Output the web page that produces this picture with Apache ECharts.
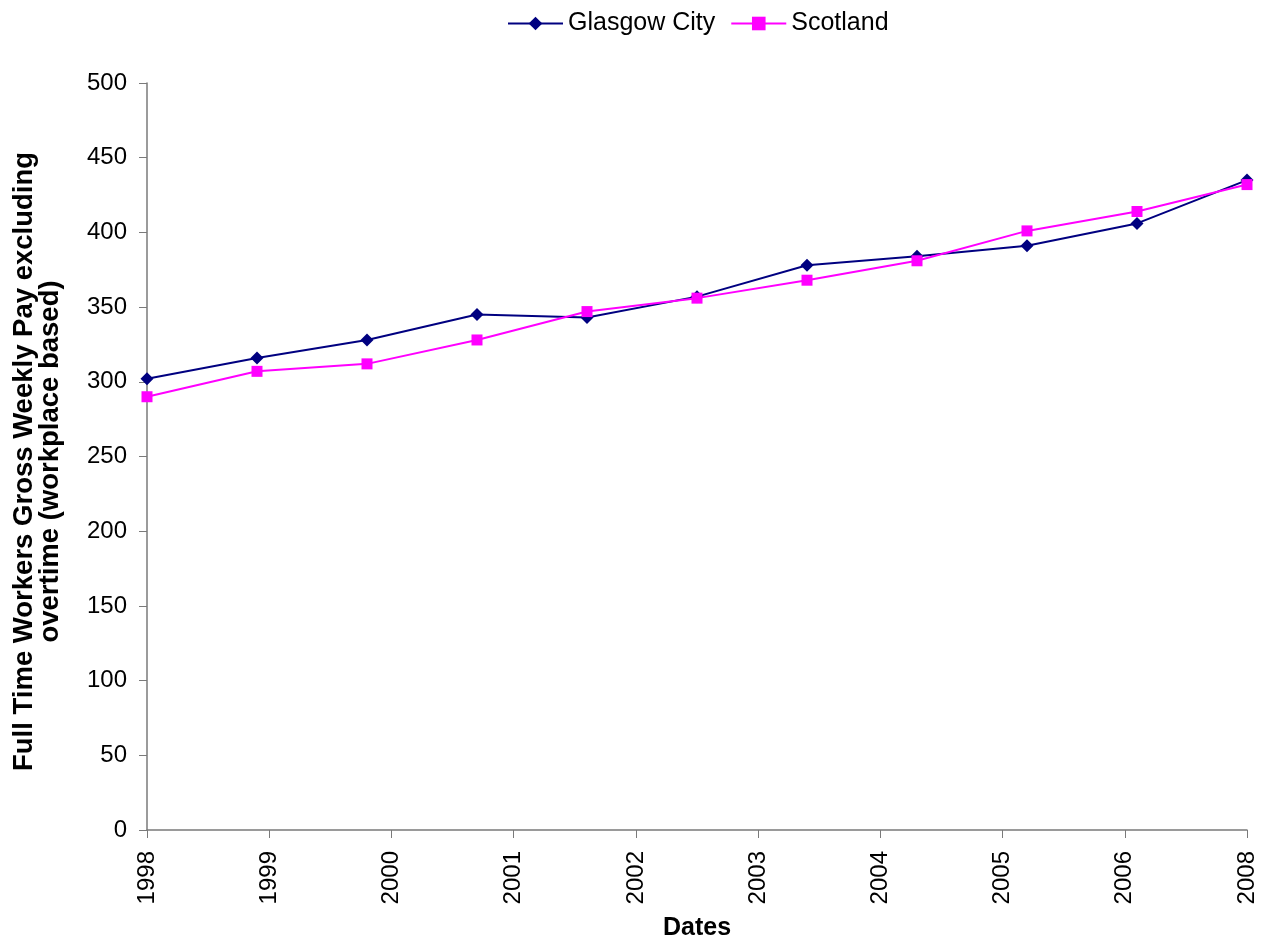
<!DOCTYPE html>
<html>
<head>
<meta charset="utf-8">
<script src="https://cdn.jsdelivr.net/npm/echarts@6/dist/echarts.min.js"></script>
<style>
html,body{margin:0;padding:0;background:#fff;}
#chart{width:1268px;height:946px;}
</style>
</head>
<body>
<div id="chart"></div>
<script>
// Data
var years = [1998, 1999, 2000, 2001, 2002, 2003, 2004, 2005, 2006, 2007, 2008];
var glasgow = [302, 316, 328, 345, 343, 357, 378, 384, 391, 406, 435];
var scotland = [290, 307, 312, 328, 347, 356, 368, 381, 401, 414, 432];
var xTickLabels = ['1998', '1999', '2000', '2001', '2002', '2003', '2004', '2005', '2006', '2008'];
var seriesNames = ['Glasgow City', 'Scotland'];

// x scale: 9 units per year so that the 10 labelled ticks fall on whole numbers
var UNITS_PER_YEAR = 9;
function toX(y) { return (y - years[0]) * UNITS_PER_YEAR; }
function pairs(vals) { return years.map(function (y, i) { return [toX(y), vals[i]]; }); }

var FONT = '"Liberation Sans", Arial, sans-serif';
var axisGrey = '#7a7a7a';

var chart = echarts.init(document.getElementById('chart'), null, { renderer: 'canvas' });
chart.setOption({
  backgroundColor: '#ffffff',
  animation: false,
  textStyle: { fontFamily: FONT },
  legend: {
    left: 502,
    top: 6,
    itemWidth: 55,
    itemHeight: 17,
    itemGap: 15,
    textStyle: { fontSize: 25, color: '#000', fontFamily: FONT },
    data: seriesNames
  },
  grid: { left: 147, right: 21, top: 83, bottom: 111, containLabel: false },
  xAxis: {
    type: 'value',
    min: 0,
    max: (years[years.length - 1] - years[0]) * UNITS_PER_YEAR,
    interval: 10,
    name: 'Dates',
    nameLocation: 'middle',
    nameGap: 86,
    nameTextStyle: { fontSize: 25, fontWeight: 'bold', color: '#000', fontFamily: FONT },
    axisLine: { show: true, lineStyle: { color: axisGrey, width: 1.5 } },
    axisTick: { show: true, inside: false, length: 8, lineStyle: { color: axisGrey } },
    splitLine: { show: false },
    axisLabel: {
      rotate: 90,
      margin: 21,
      fontSize: 24,
      color: '#000',
      fontFamily: FONT,
      formatter: function (v) { return xTickLabels[Math.round(v / 10)] || ''; }
    }
  },
  yAxis: {
    type: 'value',
    min: 0,
    max: 500,
    interval: 50,
    name: 'Full Time Workers Gross Weekly Pay excluding\novertime (workplace based)',
    nameLocation: 'middle',
    nameRotate: 90,
    nameGap: 84,
    nameTextStyle: { fontSize: 27.5, fontWeight: 'bold', color: '#000', lineHeight: 26, fontFamily: FONT, padding: [0, 10, 0, 0] },
    axisLine: { show: true, lineStyle: { color: axisGrey, width: 1.5 } },
    axisTick: { show: true, inside: false, length: 8, lineStyle: { color: axisGrey } },
    splitLine: { show: false },
    axisLabel: { margin: 20, fontSize: 24, color: '#000', fontFamily: FONT }
  },
  series: [
    {
      name: seriesNames[0],
      type: 'line',
      data: pairs(glasgow),
      symbol: 'diamond',
      symbolSize: 13,
      lineStyle: { color: '#000080', width: 2 },
      itemStyle: { color: '#000080' },
      z: 2
    },
    {
      name: seriesNames[1],
      type: 'line',
      data: pairs(scotland),
      symbol: 'rect',
      symbolSize: 11,
      lineStyle: { color: '#ff00ff', width: 2 },
      itemStyle: { color: '#ff00ff' },
      z: 3
    }
  ]
});
</script>
</body>
</html>
